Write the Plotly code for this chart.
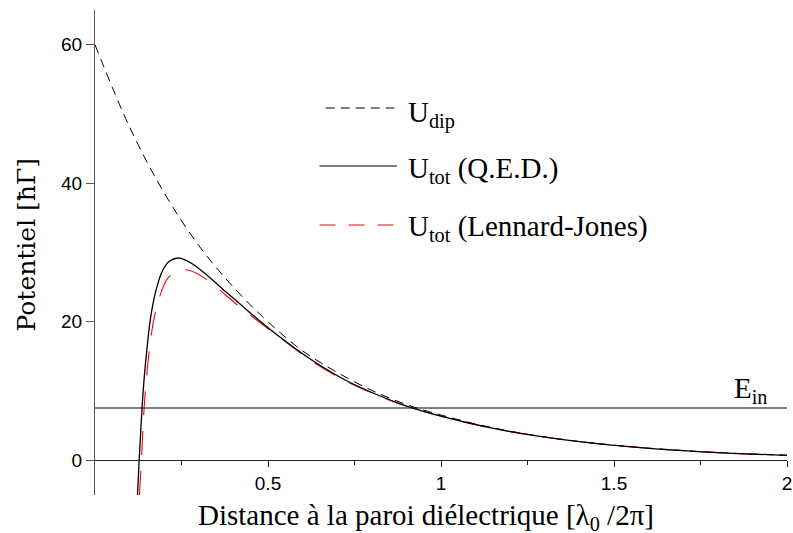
import plotly.graph_objects as go

# ---- data ----
x_dip = [0.0, 0.1, 0.2, 0.3, 0.4, 0.5, 0.6, 0.7, 0.8, 0.9, 1.0,
         1.1, 1.2, 1.3, 1.4, 1.5, 1.6, 1.7, 1.8, 1.9, 2.0]
u_dip = [60.0, 48.1, 38.6, 31.0, 25.0, 20.0, 15.8, 12.7, 10.1, 8.05, 6.55,
         5.25, 4.22, 3.38, 2.72, 2.2, 1.77, 1.42, 1.14, 0.92, 0.73]

x_qed = [0.1228, 0.1276, 0.132, 0.136, 0.142, 0.1497, 0.161, 0.176, 0.1955, 0.2165,
         0.245, 0.283, 0.317, 0.379, 0.4275, 0.4746, 0.541, 0.6275, 0.723, 0.819,
         0.914, 1.048, 1.2, 1.4, 1.6, 1.8, 2.0]
u_qed = [-5.0, 0.0, 4.0, 7.6, 11.8, 15.9, 20.7, 24.5, 27.4, 28.8,
         29.2, 28.3, 27.0, 24.3, 22.2, 20.2, 17.55, 14.45, 11.6, 9.4,
         7.6, 5.77, 4.15, 2.7, 1.73, 1.12, 0.72]

x_lj = [0.1285, 0.134, 0.138, 0.142, 0.149, 0.157, 0.1716, 0.193, 0.212, 0.235,
        0.255, 0.274, 0.317, 0.379, 0.417, 0.475, 0.513, 0.551, 0.6275, 0.723,
        0.819, 0.914, 1.048, 1.2, 1.4, 1.6, 1.8, 2.0]
u_lj = [-5.0, 0.0, 3.9, 7.6, 12.0, 15.9, 20.7, 24.5, 26.4, 27.2,
        27.5, 27.4, 26.3, 23.8, 22.2, 19.95, 18.5, 17.1, 14.3, 11.5,
        9.35, 7.58, 5.75, 4.15, 2.7, 1.73, 1.12, 0.72]

x_ein = [0.0, 2.0]
e_in = [7.55, 7.55]

x_ticks = [0.5, 1, 1.5, 2]
x_ticktext = ["0.5", "1", "1.5", "2"]
x_minor = [0.25, 0.75, 1.25, 1.75]
y_ticks = [0, 20, 40, 60]

SERIF = "Liberation Serif, Times New Roman, serif"
SANS = "Liberation Sans, Arial, sans-serif"
FS = 29
SUB = '<sub>{}</sub>'

fig = go.Figure()
fig.add_trace(go.Scatter(x=x_ein, y=e_in, mode="lines",
                         line=dict(color="black", width=1.1), hoverinfo="skip"))
fig.add_trace(go.Scatter(x=x_dip, y=u_dip, mode="lines",
                         line=dict(color="black", width=1, dash="9px,6px", shape="spline")))
fig.add_trace(go.Scatter(x=x_lj, y=u_lj, mode="lines",
                         line=dict(color="#ff0000", width=1.1, dash="24px,16px", shape="spline")))
fig.add_trace(go.Scatter(x=x_qed, y=u_qed, mode="lines",
                         line=dict(color="black", width=1.3, shape="spline")))

# ---- manual legend ----
legend = [
    (0.3335, 0.4325, 108, "black", "9px,6px", "U" + SUB.format("dip"), 114),
    (0.3245, 0.4365, 166, "black", "solid", "U" + SUB.format("tot") + " (Q.E.D.)", 170),
    (0.3245, 0.4365, 225, "#ff0000", "16px,13px", "U" + SUB.format("tot") + " (Lennard-Jones)", 228),
]
H, T, B = 533, 10, 38
ph = H - T - B
def py(pix):
    return 1 - (pix - T) / ph

for x0, x1, ypix, col, dsh, txt, ty in legend:
    fig.add_shape(type="line", xref="paper", yref="paper", x0=x0, x1=x1,
                  y0=py(ypix), y1=py(ypix), line=dict(color=col, width=1.1, dash=dsh))
    fig.add_annotation(xref="paper", yref="paper", x=(408 - 95) / 697, y=py(ty),
                       xanchor="left", yanchor="middle", text=txt, showarrow=False,
                       font=dict(family=SERIF, size=FS, color="black"))

# E_in label
fig.add_annotation(x=1.95, y=7.55, xref="x", yref="y", xanchor="right", yanchor="bottom",
                   text="E" + SUB.format("in"), showarrow=False, yshift=-2,
                   font=dict(family=SERIF, size=FS, color="black"))

# axis titles
fig.add_annotation(xref="paper", yref="paper", x=(428 - 95) / 697, y=py(517),
                   xanchor="center", yanchor="middle", showarrow=False,
                   text="Distance à la paroi diélectrique [λ<sub>0</sub> /2π]",
                   font=dict(family=SERIF, size=FS, color="black"))
fig.add_annotation(xref="paper", yref="paper", x=(26 - 95) / 697, y=py(244),
                   xanchor="center", yanchor="middle", showarrow=False, textangle=-90,
                   text="Potentiel [ħΓ]",
                   font=dict(family="DejaVu Serif, serif", size=25, color="black"))

fig.update_layout(
    width=793, height=533,
    margin=dict(l=95, r=1, t=T, b=B),
    plot_bgcolor="white", paper_bgcolor="white",
    showlegend=False,
    xaxis=dict(range=[0, 2], anchor="free", position=5 / 70,
               showgrid=False, zeroline=False, showline=True,
               linecolor="#222", linewidth=1.2,
               tickvals=x_ticks, ticktext=x_ticktext, ticklabeloverflow="allow",
               ticks="outside", ticklen=6, tickcolor="#222", tickwidth=1,
               tickfont=dict(family=SANS, size=19, color="black"),
               minor=dict(tickvals=x_minor, ticks="outside", ticklen=4,
                          tickcolor="#222", tickwidth=1)),
    yaxis=dict(range=[-5, 65], showgrid=False, zeroline=False, showline=True,
               linecolor="#555", linewidth=1.2,
               tickvals=y_ticks, ticks="outside", ticklen=8, tickcolor="#555",
               tickfont=dict(family=SANS, size=19, color="black")),
)

fig.write_html("out.html", config={"displayModeBar": False})
